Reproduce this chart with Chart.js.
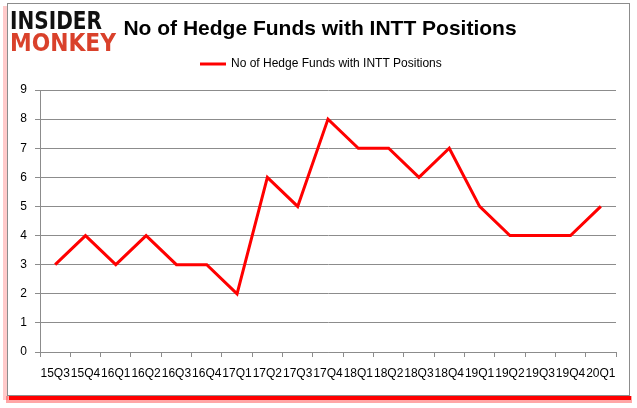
<!DOCTYPE html>
<html lang="en">
<head>
    <meta charset="UTF-8">
    <title>No of Hedge Funds with INTT Positions</title>
    <script src="https://cdn.jsdelivr.net/npm/chart.js"></script>
    <style>
        html, body { margin: 0; padding: 0; background: #fff; }
        canvas { display: block; }
    </style>
</head>
<body>

    <canvas id="fundsChart" width="637" height="408"></canvas>

    <script>
        // quarters + number of hedge funds holding INTT
        const quarters = ["15Q3", "15Q4", "16Q1", "16Q2", "16Q3", "16Q4", "17Q1", "17Q2", "17Q3", "17Q4",
                          "18Q1", "18Q2", "18Q3", "18Q4", "19Q1", "19Q2", "19Q3", "19Q4", "20Q1"];
        const fundCounts = [3, 4, 3, 4, 3, 3, 2, 6, 5, 8, 7, 7, 6, 7, 5, 4, 4, 4, 5];
        const seriesName = "No of Hedge Funds with INTT Positions";
        const chartTitle = "No of Hedge Funds with INTT Positions";

        const FONT = "'Liberation Sans', Arial, sans-serif";

        // squeeze a word into a given box (used for the logo)
        function fitText(c, txt, x, y, w) {
            const m = c.measureText(txt).width;
            c.save();
            c.translate(x, y);
            c.scale(w / m, 1);
            c.fillText(txt, 0, 0);
            c.restore();
        }

        // frame, logo, title and legend drawn around the plot
        const decorations = {
            id: "decorations",
            beforeDraw(chart) {
                const c = chart.ctx;
                c.save();
                c.fillStyle = "#fff";
                c.fillRect(0, 0, chart.width, chart.height);
                // soft pink shadow on the left, red strip at the bottom
                c.fillStyle = "rgba(255,80,80,0.3)";
                c.fillRect(3, 6, 5, 394);
                c.fillStyle = "rgba(255,0,0,0.35)";
                c.fillRect(6, 396, 626, 7);
                c.fillStyle = "#ff0000";
                c.fillRect(9, 396, 622, 4);
                c.fillStyle = "#fff";
                c.fillRect(7, 3, 623, 393);
                c.strokeStyle = "#8c8c8c";
                c.lineWidth = 1;
                c.strokeRect(7.5, 3.5, 622, 392);
                c.restore();
            },
            afterDraw(chart) {
                const c = chart.ctx;
                c.save();
                // logo
                c.textBaseline = "alphabetic";
                c.textAlign = "left";
                c.font = "bold 24px 'DejaVu Sans', sans-serif";
                c.fillStyle = "#111";
                fitText(c, "INSIDER", 10, 29, 92);
                c.fillStyle = "#d9412b";
                fitText(c, "MONKEY", 10, 51, 106);
                // title
                c.fillStyle = "#000";
                c.textAlign = "center";
                c.font = "bold 21px " + FONT;
                c.fillText(chartTitle, 320, 35);
                // legend
                c.font = "12px " + FONT;
                c.textAlign = "left";
                c.textBaseline = "middle";
                const x0 = 200;
                c.strokeStyle = "#ff0000";
                c.lineWidth = 3;
                c.beginPath();
                c.moveTo(x0, 64);
                c.lineTo(x0 + 26, 64);
                c.stroke();
                c.fillStyle = "#000";
                c.fillText(seriesName, x0 + 31, 64);
                c.restore();
            }
        };

        const ctx = document.getElementById("fundsChart").getContext("2d");

        new Chart(ctx, {
            type: "line",
            data: {
                labels: quarters,
                datasets: [{
                    label: seriesName,
                    data: fundCounts,
                    borderColor: "#ff0000",
                    borderWidth: 3,
                    pointRadius: 0,
                    fill: false,
                    tension: 0
                }]
            },
            options: {
                responsive: false,
                animation: false,
                layout: { padding: { left: 10, right: 21, top: 90, bottom: 10 } },
                plugins: {
                    legend: { display: false },
                    title: { display: false },
                    tooltip: { enabled: false }
                },
                scales: {
                    x: {
                        offset: true,
                        grid: { offset: true, drawOnChartArea: false, color: "#8c8c8c", tickLength: 5 },
                        border: { color: "#8c8c8c" },
                        ticks: { color: "#000", font: { family: FONT, size: 12 }, maxRotation: 0, autoSkip: false, padding: 9 },
                        afterFit: s => { s.height = 46; }
                    },
                    y: {
                        min: 0,
                        max: 9,
                        ticks: { stepSize: 1, color: "#000", font: { family: FONT, size: 12 }, padding: 8 },
                        grid: { color: "#8c8c8c", tickLength: 5 },
                        border: { color: "#8c8c8c" },
                        afterFit: s => { s.width = 30; }
                    }
                }
            },
            plugins: [decorations]
        });
    </script>

</body>
</html>
